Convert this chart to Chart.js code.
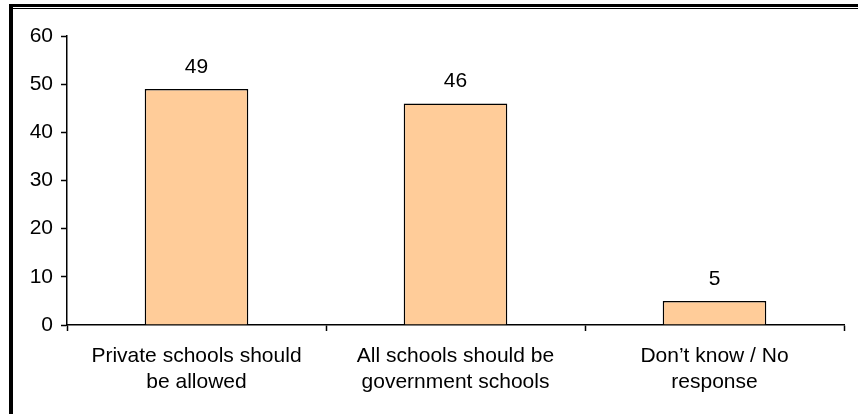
<!DOCTYPE html>
<html>
<head>
<meta charset="utf-8">
<script src="https://cdn.jsdelivr.net/npm/chart.js@4"></script>
<style>
  html, body { margin: 0; padding: 0; background: #fff; }
  #wrap { width: 858px; height: 414px; position: relative; }
</style>
</head>
<body>
<div id="wrap"><canvas id="surveyChart"></canvas></div>
<script>
// chart data
var categories = [
    ['Private schools should', 'be allowed'],
    ['All schools should be', 'government schools'],
    ['Don\u2019t know / No', 'response']
];
var percentValues = [49, 46, 5];
var yTicks = [0, 10, 20, 30, 40, 50, 60];

var font = 'Arial, "Liberation Sans", sans-serif';
var fontSize = 21;

// frame round the picture: double line on top, thick line on the left
var framePlugin = {
    id: 'frame',
    afterDraw: function(chart) {
        var c = chart.ctx;
        c.save();
        c.fillStyle = '#000';
        c.fillRect(9, 4, chart.width - 9, 3);
        c.fillRect(9, 8, chart.width - 9, 1);
        c.fillRect(9, 4, 4, chart.height - 4);
        c.restore();
    }
};

// value labels above each bar
var valueLabels = {
    id: 'valueLabels',
    afterDatasetsDraw: function(chart) {
        var c = chart.ctx;
        var meta = chart.getDatasetMeta(0);
        c.save();
        c.fillStyle = '#000';
        c.font = fontSize + 'px ' + font;
        c.textAlign = 'center';
        c.textBaseline = 'alphabetic';
        meta.data.forEach(function(bar, i) {
            c.fillText(String(percentValues[i]), bar.x, bar.y - 16);
        });
        c.restore();
    }
};

var ctx = document.getElementById('surveyChart').getContext('2d');
var surveyChart = new Chart(ctx, {
    type: 'bar',
    data: {
        labels: categories,
        datasets: [{
            data: percentValues,
            backgroundColor: '#FFCC99',
            borderColor: '#000',
            borderWidth: 1.5,
            categoryPercentage: 0.8,
            barPercentage: 0.5
        }]
    },
    options: {
        responsive: true,
        maintainAspectRatio: false,
        animation: false,
        layout: { padding: { top: 36, right: 14, left: 0, bottom: 0 } },
        plugins: {
            legend: { display: false },
            tooltip: { enabled: false }
        },
        scales: {
            x: {
                grid: {
                    drawOnChartArea: false,
                    drawTicks: true,
                    tickLength: 6,
                    tickWidth: 1.5,
                    color: '#000',
                    offset: true
                },
                border: { color: '#000', width: 1.5 },
                ticks: {
                    color: '#000',
                    font: { family: font, size: fontSize, lineHeight: 1.24 },
                    maxRotation: 0,
                    autoSkip: false,
                    padding: 12
                },
                afterFit: function(scale) { scale.height = 89; }
            },
            y: {
                min: 0,
                max: 60,
                afterBuildTicks: function(scale) {
                    scale.ticks = yTicks.map(function(v) { return { value: v }; });
                },
                grid: {
                    drawOnChartArea: false,
                    drawTicks: true,
                    tickLength: 6,
                    tickWidth: 1.5,
                    color: '#000'
                },
                border: { color: '#000', width: 1.5 },
                ticks: {
                    color: '#000',
                    font: { family: font, size: fontSize },
                    padding: 8
                },
                afterFit: function(scale) { scale.width = 67; }
            }
        }
    },
    plugins: [framePlugin, valueLabels]
});
</script>
</body>
</html>
